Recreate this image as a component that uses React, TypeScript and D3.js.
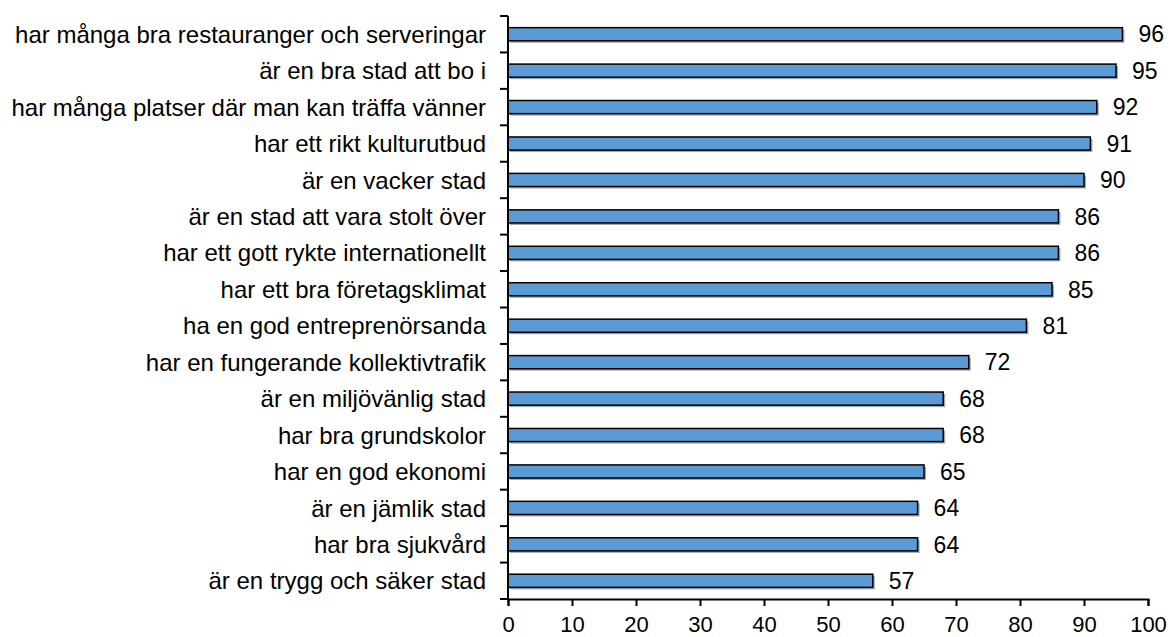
import React, { useEffect, useRef } from "react";
import * as d3 from "d3";

const categories = [
  "har många bra restauranger och serveringar",
  "är en bra stad att bo i",
  "har många platser där man kan träffa vänner",
  "har ett rikt kulturutbud",
  "är en vacker stad",
  "är en stad att vara stolt över",
  "har ett gott rykte internationellt",
  "har ett bra företagsklimat",
  "ha en god entreprenörsanda",
  "har en fungerande kollektivtrafik",
  "är en miljövänlig stad",
  "har bra grundskolor",
  "har en god ekonomi",
  "är en jämlik stad",
  "har bra sjukvård",
  "är en trygg och säker stad",
];
const values = [96, 95, 92, 91, 90, 86, 86, 85, 81, 72, 68, 68, 65, 64, 64, 57];
const xTicks = [0, 10, 20, 30, 40, 50, 60, 70, 80, 90, 100];

const W = 1171,
  H = 637;
const margin = { top: 16, right: 23, bottom: 38, left: 508 };

export default function App() {
  const ref = useRef<SVGSVGElement>(null);

  useEffect(() => {
    const svg = d3.select(ref.current);
    svg.selectAll("*").remove();
    const w = W - margin.left - margin.right,
      h = H - margin.top - margin.bottom;
    const g = svg.append("g").attr("transform", `translate(${margin.left},${margin.top})`);

    const x = d3.scaleLinear().domain([0, 100]).range([0, w]);
    const y = d3.scaleBand().domain(categories).range([0, h]).paddingInner(0.64).paddingOuter(0.32);

    // soft shadow under bars
    g.selectAll("rect.shadow")
      .data(values)
      .join("rect")
      .attr("class", "shadow")
      .attr("x", 2)
      .attr("y", (d, i) => y(categories[i])! + 2)
      .attr("width", (d) => x(d))
      .attr("height", y.bandwidth())
      .attr("fill", "#a6a6a6");

    // bars
    g.selectAll("rect.bar")
      .data(values)
      .join("rect")
      .attr("class", "bar")
      .attr("x", 0)
      .attr("y", (d, i) => y(categories[i])!)
      .attr("width", (d) => x(d))
      .attr("height", y.bandwidth())
      .attr("fill", "#5b9bd5")
      .attr("stroke", "#000")
      .attr("stroke-width", 1.5);

    // value labels
    g.selectAll("text.val")
      .data(values)
      .join("text")
      .attr("class", "val")
      .attr("x", (d) => x(d) + 16)
      .attr("y", (d, i) => y(categories[i])! + y.bandwidth() / 2)
      .attr("dy", "0.36em")
      .attr("font-size", 23)
      .text((d) => d);

    // x axis
    const xAxis = g
      .append("g")
      .attr("transform", `translate(0,${h})`)
      .call(d3.axisBottom(x).tickValues(xTicks).tickSize(7).tickSizeOuter(7).tickPadding(10));
    xAxis.select(".domain").attr("stroke-width", 2);
    xAxis.selectAll(".tick line").attr("stroke-width", 2);
    xAxis.selectAll("text").attr("font-size", 22).attr("fill", "#000");
    xAxis.attr("font-family", null).attr("font-size", 22);

    // y axis: ticks between categories
    const step = y.step();
    const bounds = d3.range(categories.length + 1).map((i) => i * step);
    g.append("line")
      .attr("x1", 0)
      .attr("x2", 0)
      .attr("y1", 0)
      .attr("y2", h)
      .attr("stroke", "#000")
      .attr("stroke-width", 2);
    g.selectAll("line.ytick")
      .data(bounds)
      .join("line")
      .attr("class", "ytick")
      .attr("x1", -8)
      .attr("x2", 0)
      .attr("y1", (d) => d)
      .attr("y2", (d) => d)
      .attr("stroke", "#000")
      .attr("stroke-width", 2);
    g.selectAll("text.cat")
      .data(categories)
      .join("text")
      .attr("class", "cat")
      .attr("x", -22)
      .attr("y", (d) => y(d)! + y.bandwidth() / 2)
      .attr("dy", "0.36em")
      .attr("text-anchor", "end")
      .attr("font-size", 24)
      .text((d) => d);
  }, []);

  return (
    <svg
      ref={ref}
      width={W}
      height={H}
      style={{ position: "absolute", left: 0, top: 0, fontFamily: "Arial, 'Liberation Sans', sans-serif", background: "#fff" }}
    />
  );
}
